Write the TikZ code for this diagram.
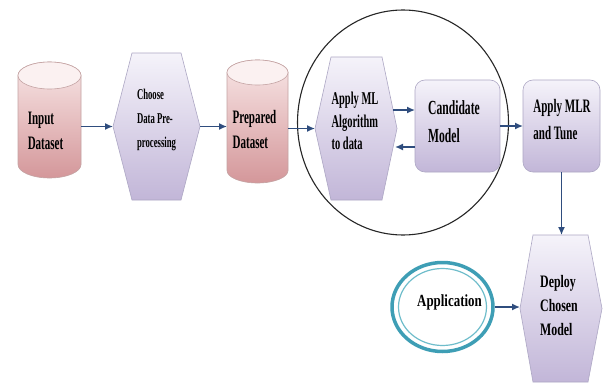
\documentclass[tikz,border=0pt]{standalone}
\usepackage{fontspec}
\newfontfamily\lbl[FakeStretch=0.58]{Liberation Serif}
\newfontfamily\lblw[FakeStretch=0.68]{Liberation Serif}
\newfontfamily\lblx[FakeStretch=0.76]{Liberation Serif}
\usetikzlibrary{arrows.meta,shapes.geometric,calc}
\pgfdeclarelayer{canvasbg}
\pgfdeclarelayer{background}
\pgfsetlayers{canvasbg,background,main}
\definecolor{lavtop}{HTML}{F5F3FA}
\definecolor{lavbot}{HTML}{C2B6D8}
\definecolor{lavline}{HTML}{ADA7C4}
\definecolor{pinktop}{HTML}{F8E6E6}
\definecolor{pinkbot}{HTML}{D4979A}
\definecolor{pinkline}{HTML}{C4A3A3}
\definecolor{pinkcap}{HTML}{FBF1F1}
\definecolor{arrblue}{HTML}{2F4D7E}
\definecolor{tealA}{HTML}{3E9EB5}
\definecolor{tealB}{HTML}{6FBDCB}
\newcommand\hexshade[3]{%
  \shade[top color=lavtop,bottom color=lavbot,draw=lavline,line width=0.6pt]
   (#1.west) -- ([xshift=#2]#1.north west) -- ([xshift=-#3]#1.north east) -- (#1.east)
   -- ([xshift=-#3]#1.south east) -- ([xshift=#2]#1.south west) -- cycle;}
\newcommand\cylshade[3]{% node, x radius, y radius
  \shade[top color=pinktop,bottom color=pinkbot,draw=pinkline,line width=0.6pt]
   ([yshift=-#3]#1.north west) -- ([yshift=#3]#1.south west)
   arc[start angle=180,end angle=360,x radius=#2,y radius=#3]
   -- ([yshift=-#3]#1.north east)
   arc[start angle=0,end angle=180,x radius=#2,y radius=#3] -- cycle;
  \filldraw[fill=pinkcap,draw=pinkline,line width=0.6pt]
   ([yshift=-#3]#1.north) ellipse[x radius=#2,y radius=#3];}
\begin{document}
\begin{tikzpicture}[x=1pt,y=-1pt,
  geo/.style={rectangle,inner sep=0pt,outer sep=0pt},
  txt/.style={align=left,text=black,inner sep=0pt},
  rbox/.style={geo,rounded corners=10pt,draw=lavline,line width=0.6pt,
    top color=lavtop,bottom color=lavbot},
  arr/.style={draw=arrblue,line width=1.4pt,-{Latex[length=8pt,width=7pt]}},
]
\begin{pgfonlayer}{canvasbg}
\fill[white] (0,0) rectangle (608,383);
\end{pgfonlayer}
\useasboundingbox (0,0) rectangle (608,383);

% big loop ellipse
\node[draw=black!85,line width=1.1pt,ellipse,inner sep=0pt,
  minimum width=211pt,minimum height=225pt] (loop) at (403,122.5) {};

% geometry nodes
\node[geo,minimum width=63pt,minimum height=116pt,
  label={[txt,font=\lbl\bfseries\fontsize{19}{25}\selectfont,xshift=-4pt,yshift=-11pt]center:{Input\\Dataset}}]
  (in) at (49.5,120) {};
\node[geo,minimum width=87pt,minimum height=147pt,
  label={[txt,font=\lbl\bfseries\fontsize{15}{24}\selectfont,yshift=7pt]center:{Choose\\Data Pre-\\processing}}]
  (choose) at (156.5,126.5) {};
\node[geo,minimum width=61pt,minimum height=123pt,
  label={[txt,font=\lbl\bfseries\fontsize{19}{25}\selectfont,xshift=-3pt,yshift=-7.5pt]center:{Prepared\\Dataset}}]
  (prep) at (257.5,121.5) {};
\node[geo,minimum width=82pt,minimum height=143pt,
  label={[txt,font=\lbl\bfseries\fontsize{18}{22.5}\selectfont,xshift=-1pt,yshift=7.5pt]center:{Apply ML\\Algorithm\\to data}}]
  (ml) at (356,128.5) {};
\node[rbox,minimum width=85pt,minimum height=92pt,
  label={[txt,font=\lbl\bfseries\fontsize{20}{28}\selectfont,xshift=-3.5pt,yshift=4pt]center:{Candidate\\Model}}]
  (cand) at (457.5,126) {};
\node[rbox,minimum width=77pt,minimum height=92pt,
  label={[txt,font=\lbl\bfseries\fontsize{19}{27}\selectfont,xshift=0.5pt,yshift=6pt]center:{Apply MLR\\and Tune}}]
  (mlr) at (561.5,126) {};
\node[geo,minimum width=82pt,minimum height=147pt,
  label={[txt,font=\lblw\bfseries\fontsize{17.5}{24}\selectfont,xshift=-2pt,yshift=3pt]center:{Deploy\\Chosen\\Model}}]
  (deploy) at (561,308.5) {};
\node[ellipse,draw=tealA,line width=3.5pt,inner sep=0pt,
  minimum width=101pt,minimum height=89pt,
  label={[txt,font=\lblx\bfseries\fontsize{17}{22}\selectfont,xshift=7pt,yshift=5pt]center:{Application}}]
  (app) at (442.5,307) {};

\begin{pgfonlayer}{background}
  \cylshade{in}{31.5pt}{13.5pt}
  \cylshade{prep}{30.5pt}{12.5pt}
  \hexshade{choose}{19pt}{19pt}
  \hexshade{ml}{16pt}{15pt}
  \hexshade{deploy}{13pt}{14pt}
\end{pgfonlayer}
\draw[tealB,line width=1.2pt] (app.center) ellipse[x radius=44pt,y radius=38.5pt];

% connectors
\draw[arr] (in.east |- choose.west) -- (choose.west);
\draw[arr] (choose.east) -- (prep.west |- choose.east);
\draw[arr] (prep.east |- ml.west) -- (ml.west);
\draw[arr] ([xshift=-4pt,yshift=18.5pt]ml.east) -- ([yshift=18.5pt]ml.east -| cand.west);
\draw[arr] ([yshift=-18.5pt]ml.east -| cand.west) -- ([xshift=-2pt,yshift=-18.5pt]ml.east);
\draw[arr] (cand.east) -- (mlr.west);
\draw[arr] (mlr.south) -- (mlr.south |- deploy.north);
\draw[arr] (app.east) -- (app.east -| deploy.west);
\end{tikzpicture}
\end{document}
